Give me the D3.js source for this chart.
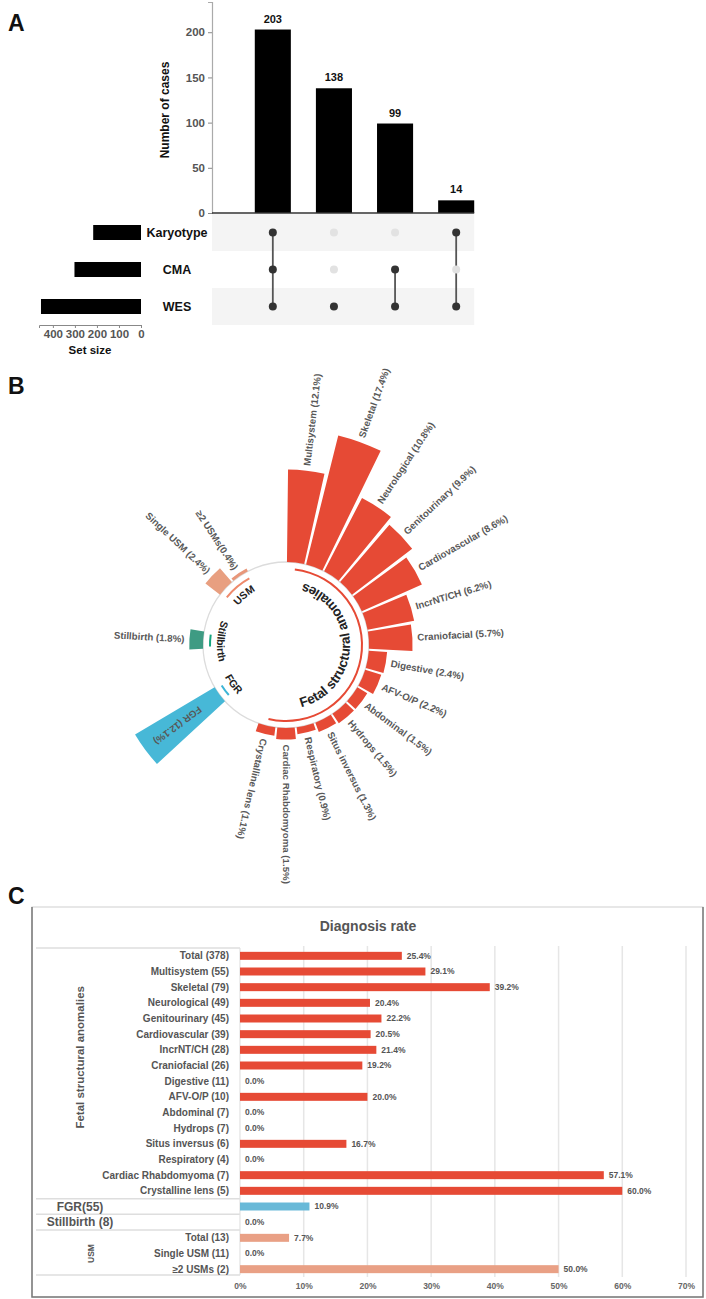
<!DOCTYPE html>
<html><head><meta charset="utf-8">
<script src="https://cdn.jsdelivr.net/npm/d3@7"></script>
<style>
body{margin:0;background:#fff}
svg{display:block;font-family:"Liberation Sans",Arial,Helvetica,sans-serif}
</style>
</head><body>
<svg id="chart" width="706" height="1299"></svg>
<script>
// ================= Panel A data (UpSet) =================
const upsetIntersections = ["Karyotype+CMA+WES", "WES only", "CMA+WES", "Karyotype+WES"];
const upsetCounts = [203, 138, 99, 14];
const upsetMembers = [["Karyotype", "CMA", "WES"], ["WES"], ["CMA", "WES"], ["Karyotype", "WES"]];
const setNames = ["Karyotype", "CMA", "WES"];
const setSizes = [217, 302, 454];
const countTicks = [0, 50, 100, 150, 200];
const sizeTicks = [0, 100, 200, 300, 400];

// ================= Panel B data (circular bars) =================
const radialNames = ["Multisystem", "Skeletal", "Neurological", "Genitourinary", "Cardiovascular",
  "IncrNT/CH", "Craniofacial", "Digestive", "AFV-O/P", "Abdominal", "Hydrops", "Situs inversus",
  "Respiratory", "Cardiac Rhabdomyoma", "Crystalline lens", "FGR", "Stillbirth", "Single USM", "≥2 USMs"];
const radialPercents = [12.1, 17.4, 10.8, 9.9, 8.6, 6.2, 5.7, 2.4, 2.2, 1.5, 1.5, 1.3, 0.9, 1.5, 1.1, 12.1, 1.8, 2.4, 0.4];
const radialLabels = ["Multisystem (12.1%)", "Skeletal (17.4%)", "Neurological (10.8%)", "Genitourinary (9.9%)",
  "Cardiovascular (8.6%)", "IncrNT/CH (6.2%)", "Craniofacial (5.7%)", "Digestive (2.4%)", "AFV-O/P (2.2%)",
  "Abdominal (1.5%)", "Hydrops (1.5%)", "Situs inversus (1.3%)", "Respiratory (0.9%)", "Cardiac Rhabdomyoma (1.5%)",
  "Crystalline lens (1.1%)", "FGR (12.1%)", "Stillbirth (1.8%)", "Single USM (2.4%)", "≥2 USMs(0.4%)"];
const radialGroupOf = ["Fetal", "Fetal", "Fetal", "Fetal", "Fetal", "Fetal", "Fetal", "Fetal", "Fetal", "Fetal",
  "Fetal", "Fetal", "Fetal", "Fetal", "Fetal", "FGR", "Stillbirth", "USM", "USM"];
const radialGroups = ["Fetal", "FGR", "Stillbirth", "USM"];
const radialGroupLabels = ["Fetal structural anomalies", "FGR", "Stillbirth", "USM"];

// ================= Panel C data (diagnosis rate) =================
const rateLabels = ["Total (378)", "Multisystem (55)", "Skeletal (79)", "Neurological (49)", "Genitourinary (45)",
  "Cardiovascular (39)", "IncrNT/CH (28)", "Craniofacial (26)", "Digestive (11)", "AFV-O/P (10)", "Abdominal (7)",
  "Hydrops (7)", "Situs inversus (6)", "Respiratory  (4)", "Cardiac Rhabdomyoma (7)", "Crystalline lens (5)",
  "FGR(55)", "Stillbirth (8)", "Total (13)", "Single USM (11)", "≥2 USMs (2)"];
const rateValues = [25.4, 29.1, 39.2, 20.4, 22.2, 20.5, 21.4, 19.2, 0.0, 20.0, 0.0, 0.0, 16.7, 0.0, 57.1, 60.0,
  10.9, 0.0, 7.7, 0.0, 50.0];
const rateGroupOf = ["Fetal", "Fetal", "Fetal", "Fetal", "Fetal", "Fetal", "Fetal", "Fetal", "Fetal", "Fetal",
  "Fetal", "Fetal", "Fetal", "Fetal", "Fetal", "Fetal", "FGR", "Stillbirth", "USM", "USM", "USM"];
const rateTicks = [0, 10, 20, 30, 40, 50, 60, 70];

// ================= styles =================
const RED = "#E64A35";
const barColorB = {"Fetal": RED, "FGR": "#47B8D7", "Stillbirth": "#3E9B83", "Single USM": "#E89F80", "≥2 USMs": "#E8977A"};
const arcColorB = {"Fetal": RED, "FGR": "#3DB5D6", "Stillbirth": "#17A57E", "USM": "#EE8A6C"};
const barColorC = {"Fetal": RED, "FGR": "#69B9D8", "Stillbirth": RED, "USM": "#E9A085"};

const svg = d3.select("#chart");

[["A", 8, 31], ["B", 8, 394], ["C", 8, 904]].forEach(([t, x, y]) =>
  svg.append("text").attr("x", x).attr("y", y).text(t)
    .attr("font-size", 23).attr("font-weight", 700).attr("fill", "#111"));

// ================= Panel A =================
(function () {
  const g = svg.append("g");
  const x = d3.scaleBand().domain(upsetIntersections).range([212, 517]).paddingInner(0.41).paddingOuter(0.7);
  const y = d3.scaleLinear().domain([0, 203 * 1.15]).range([213, 2]);
  const rows = d3.scaleBand().domain(setNames).range([214, 325]);
  const xs = d3.scaleLinear().domain([0, 463]).range([141, 39]);
  const matrixRight = x(upsetIntersections[3]) + x.bandwidth();

  g.selectAll("rect.stripe").data(setNames.filter((d, i) => i % 2 === 0)).join("rect")
    .attr("x", 212).attr("y", d => rows(d)).attr("width", matrixRight - 212).attr("height", rows.bandwidth())
    .attr("fill", "#f4f4f4");

  const ax = g.append("g").attr("transform", "translate(212,0)")
    .call(d3.axisLeft(y).tickValues(countTicks).tickSize(4).tickPadding(3));
  ax.select(".domain").attr("stroke", "#aaa").attr("stroke-width", 1.2);
  ax.selectAll(".tick line").attr("stroke", "#888");
  ax.selectAll(".tick text").attr("font-size", 11.5).attr("font-weight", 700).attr("fill", "#555")
    .attr("font-family", "Liberation Sans, Arial, sans-serif");

  g.append("text").attr("transform", "translate(169,110) rotate(-90)").attr("text-anchor", "middle")
    .attr("font-size", 12).attr("font-weight", 700).attr("fill", "#111").text("Number of cases");

  g.selectAll("rect.bar").data(upsetIntersections).join("rect")
    .attr("x", d => x(d)).attr("width", x.bandwidth())
    .attr("y", (d, i) => y(upsetCounts[i])).attr("height", (d, i) => y(0) - y(upsetCounts[i]))
    .attr("fill", "#000");
  g.selectAll("text.val").data(upsetIntersections).join("text")
    .attr("x", d => x(d) + x.bandwidth() / 2).attr("y", (d, i) => y(upsetCounts[i]) - 7)
    .attr("text-anchor", "middle").attr("font-size", 11).attr("font-weight", 700).attr("fill", "#111")
    .text((d, i) => upsetCounts[i]);
  g.append("line").attr("x1", 212).attr("x2", matrixRight).attr("y1", y(0)).attr("y2", y(0))
    .attr("stroke", "#333").attr("stroke-width", 1.5);

  upsetIntersections.forEach((d, i) => {
    const cxm = x(d) + x.bandwidth() / 2;
    const mem = upsetMembers[i];
    const ys = mem.map(m => rows(m) + rows.bandwidth() / 2);
    if (ys.length > 1) {
      g.append("line").attr("x1", cxm).attr("x2", cxm).attr("y1", d3.min(ys)).attr("y2", d3.max(ys))
        .attr("stroke", "#555").attr("stroke-width", 1.8);
    }
    setNames.forEach(s => {
      g.append("circle").attr("cx", cxm).attr("cy", rows(s) + rows.bandwidth() / 2).attr("r", 4)
        .attr("fill", mem.includes(s) ? "#333" : "#e2e2e2");
    });
  });

  g.selectAll("text.set").data(setNames).join("text")
    .attr("x", 177).attr("y", d => rows(d) + rows.bandwidth() / 2).attr("dy", "0.35em")
    .attr("text-anchor", "middle").attr("font-size", 12.5).attr("font-weight", 700).attr("fill", "#111")
    .text(d => d);

  g.selectAll("rect.size").data(setNames).join("rect")
    .attr("x", (d, i) => xs(setSizes[i])).attr("width", (d, i) => xs(0) - xs(setSizes[i]))
    .attr("y", d => rows(d) + rows.bandwidth() / 2 - 7.5).attr("height", 15).attr("fill", "#000");

  const bx = g.append("g").attr("transform", "translate(0,325)")
    .call(d3.axisBottom(xs).tickValues(sizeTicks).tickSize(3).tickPadding(2));
  bx.select(".domain").attr("stroke", "#888");
  bx.selectAll(".tick line").attr("stroke", "#888");
  bx.selectAll(".tick text").attr("font-size", 11.5).attr("font-weight", 700).attr("fill", "#555")
    .attr("font-family", "Liberation Sans, Arial, sans-serif");
  g.append("text").attr("x", 90).attr("y", 354).attr("text-anchor", "middle")
    .attr("font-size", 11.5).attr("font-weight", 700).attr("fill", "#111").text("Set size");
})();

// ================= Panel B =================
(function () {
  const cx = 286, cy = 645;
  const g = svg.append("g").attr("transform", `translate(${cx},${cy})`);
  const slotKeys = [];
  radialGroups.forEach(gr => {
    radialNames.forEach((n, i) => { if (radialGroupOf[i] === gr) slotKeys.push(n); });
    slotKeys.push(gr + "#gap1", gr + "#gap2");
  });
  const ang = d3.scaleBand().domain(slotKeys).range([0, 2 * Math.PI]).paddingInner(0.1).paddingOuter(0.05);
  const r0 = 83;
  const rad = d3.scaleLinear().domain([0, 17.4]).range([r0, 216]);
  const bw = ang.bandwidth();

  g.append("circle").attr("r", r0).attr("fill", "none").attr("stroke", "#dcdcdc").attr("stroke-width", 1.3);

  const arcGen = d3.arc();
  radialNames.forEach((n, i) => {
    const col = barColorB[n] || barColorB[radialGroupOf[i]];
    g.append("path").attr("d", arcGen({
      innerRadius: r0, outerRadius: rad(radialPercents[i]),
      startAngle: ang(n), endAngle: ang(n) + bw
    })).attr("fill", col);

    const aDeg = (ang(n) + bw / 2) * 180 / Math.PI;
    const inside = radialGroupOf[i] === "FGR";
    const flip = aDeg > 250;
    let tr, anchor;
    if (inside) {
      tr = `rotate(${aDeg - 90}) translate(${rad(radialPercents[i]) - 12},0)`; anchor = "end";
    } else if (flip) {
      tr = `rotate(${aDeg - 90}) translate(${rad(radialPercents[i]) + 5},0) rotate(180)`; anchor = "end";
    } else {
      tr = `rotate(${aDeg - 90}) translate(${rad(radialPercents[i]) + 5},0)`; anchor = "start";
    }
    g.append("text").attr("transform", tr).attr("text-anchor", anchor).attr("dy", "0.35em")
      .attr("font-size", 9.7).attr("font-weight", 700).attr("fill", "#585858").text(radialLabels[i]);
  });

  const deg = Math.PI / 180;
  radialGroups.forEach((gr, gi) => {
    const items = radialNames.filter((n, i) => radialGroupOf[i] === gr);
    const big = items.length > 2;
    const ext = big ? 0 : 4.5 * deg;
    const a0 = ang(items[0]) + bw / 2 - ext;
    const a1 = ang(items[items.length - 1]) + bw / 2 + ext;
    g.append("path").attr("d", arcGen({innerRadius: 75, outerRadius: 77, startAngle: a0, endAngle: a1}))
      .attr("fill", arcColorB[gr]);

    const mid = (a0 + a1) / 2 - (big ? bw * 0.75 : 0);
    const upright = mid > 290 * deg;
    const rl = upright ? 62 : (big ? 64 : 69), half = 100 * deg;
    const p = a => [rl * Math.sin(a), -rl * Math.cos(a)];
    const id = "glabel" + gi;
    let d;
    if (upright) {
      const [sx, sy] = p(mid - half), [ex, ey] = p(mid + half);
      d = `M${sx},${sy} A${rl},${rl} 0 1 1 ${ex},${ey}`;
    } else {
      const [sx, sy] = p(mid + half), [ex, ey] = p(mid - half);
      d = `M${sx},${sy} A${rl},${rl} 0 1 0 ${ex},${ey}`;
    }
    g.append("path").attr("id", id).attr("fill", "none").attr("d", d);
    g.append("text").attr("font-size", big ? 13.5 : 10.5).attr("font-weight", 700).attr("fill", "#222")
      .append("textPath").attr("href", "#" + id).attr("startOffset", "50%").attr("text-anchor", "middle")
      .text(radialGroupLabels[gi]);
  });
})();

// ================= Panel C =================
(function () {
  const g = svg.append("g");
  g.append("rect").attr("x", 32).attr("y", 907).attr("width", 671).attr("height", 390)
    .attr("fill", "#fff").attr("stroke", "#d0d0d0").attr("stroke-width", 1);
  g.append("path").attr("d", "M32,907 V1297 H703 V907").attr("fill", "none").attr("stroke", "#7a7a7a").attr("stroke-width", 1.5);

  g.append("text").attr("x", 368).attr("y", 931).attr("text-anchor", "middle")
    .attr("font-size", 14).attr("font-weight", 700).attr("fill", "#555").text("Diagnosis rate");

  const idx = d3.range(rateLabels.length);
  const y = d3.scaleBand().domain(idx).range([948, 1277]).paddingInner(0.49).paddingOuter(0.245);
  const x = d3.scaleLinear().domain([0, 70]).range([240, 686]);
  const step = y.step(), bh = y.bandwidth();
  const slotTop = i => y(i) - (step - bh) / 2;

  g.selectAll("line.grid").data(rateTicks.slice(1)).join("line")
    .attr("x1", d => x(d)).attr("x2", d => x(d)).attr("y1", 946).attr("y2", 1277)
    .attr("stroke", "#e6e6e6").attr("stroke-width", 1.5);

  const ax = g.append("g").attr("transform", "translate(0,1277)")
    .call(d3.axisBottom(x).tickValues(rateTicks).tickSize(0).tickPadding(6).tickFormat(d => d + "%"));
  ax.select(".domain").remove();
  ax.selectAll(".tick text").attr("font-size", 8.5).attr("font-weight", 700).attr("fill", "#666")
    .attr("font-family", "Liberation Sans, Arial, sans-serif");

  const boundaries = [0];
  idx.forEach(i => { if (i > 0 && rateGroupOf[i] !== rateGroupOf[i - 1]) boundaries.push(i); });
  boundaries.forEach(i => {
    g.append("line").attr("x1", 36).attr("x2", 240).attr("y1", slotTop(i)).attr("y2", slotTop(i))
      .attr("stroke", "#dedede").attr("stroke-width", 1.5);
  });
  g.append("line").attr("x1", 36).attr("x2", 240).attr("y1", 1275).attr("y2", 1275)
    .attr("stroke", "#dedede").attr("stroke-width", 1.5);
  g.append("line").attr("x1", 240).attr("x2", 240).attr("y1", slotTop(0)).attr("y2", 1275)
    .attr("stroke", "#e2e2e2").attr("stroke-width", 1.2);

  g.selectAll("rect.rate").data(idx).join("rect")
    .attr("x", x(0)).attr("y", i => y(i)).attr("height", bh)
    .attr("width", i => x(rateValues[i]) - x(0)).attr("fill", i => barColorC[rateGroupOf[i]]);
  g.selectAll("text.rv").data(idx).join("text")
    .attr("x", i => x(rateValues[i]) + 5).attr("y", i => y(i) + bh / 2).attr("dy", "0.35em")
    .attr("font-size", 8.5).attr("font-weight", 700).attr("fill", "#555")
    .text(i => rateValues[i].toFixed(1) + "%");

  idx.forEach(i => {
    const single = rateGroupOf[i] === "FGR" || rateGroupOf[i] === "Stillbirth";
    g.append("text").attr("x", single ? 80 : 229).attr("y", y(i) + bh / 2).attr("dy", "0.35em")
      .attr("text-anchor", single ? "middle" : "end")
      .attr("font-size", single ? 12 : 10).attr("font-weight", 700).attr("fill", "#555")
      .text(rateLabels[i]);
  });

  const fetalIdx = idx.filter(i => rateGroupOf[i] === "Fetal");
  const usmIdx = idx.filter(i => rateGroupOf[i] === "USM");
  const fy = (slotTop(fetalIdx[0]) + slotTop(fetalIdx[fetalIdx.length - 1]) + step) / 2 - 16;
  g.append("text").attr("transform", `translate(84,${fy}) rotate(-90)`).attr("text-anchor", "middle")
    .attr("font-size", 11.5).attr("font-weight", 700).attr("fill", "#555").text("Fetal structural anomalies");
  const uy = (slotTop(usmIdx[0]) + slotTop(usmIdx[usmIdx.length - 1]) + step) / 2;
  g.append("text").attr("transform", `translate(94,${uy}) rotate(-90)`).attr("text-anchor", "middle")
    .attr("font-size", 8.5).attr("font-weight", 700).attr("fill", "#555").text("USM");
})();
</script>
</body></html>
